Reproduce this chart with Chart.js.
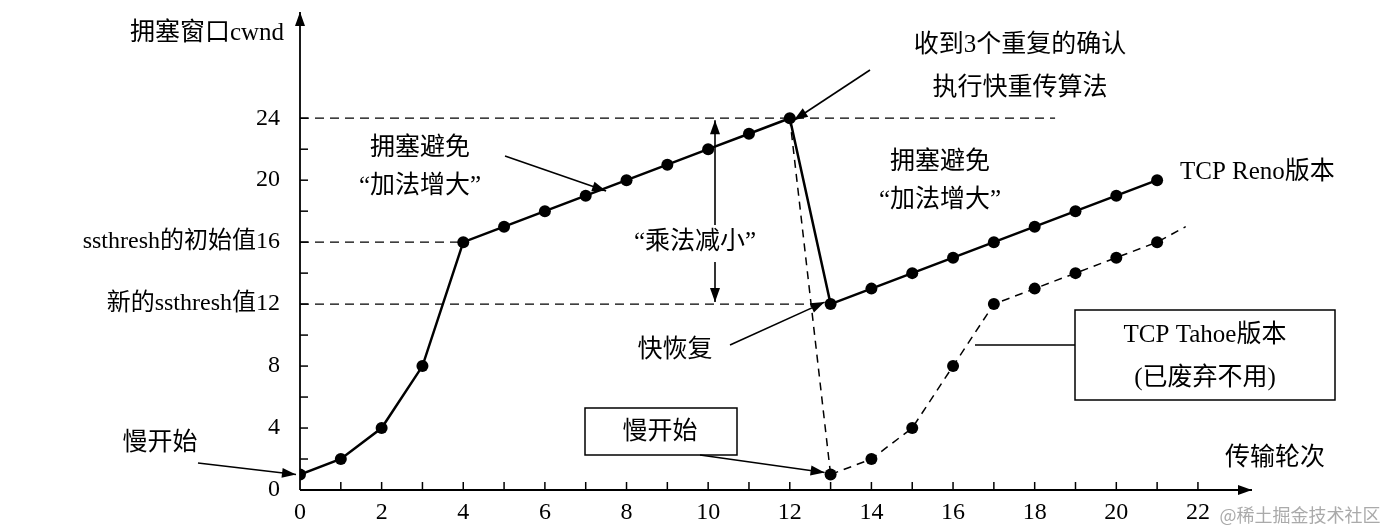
<!DOCTYPE html>
<html><head><meta charset="utf-8">
<script src="https://cdn.jsdelivr.net/npm/chart.js@4"></script>
<style>html,body{margin:0;padding:0;background:#fff}#w{width:1394px;height:530px}</style>
</head><body><div id="w"><canvas id="c"></canvas></div>
<script>
const renoX = [0,1,2,3,4,5,6,7,8,9,10,11,12,13,14,15,16,17,18,19,20,21];
const renoY = [1,2,4,8,16,17,18,19,20,21,22,23,24,12,13,14,15,16,17,18,19,20];
const dropX = [12,13];
const dropY = [24,1];
const tahoeX = [13,14,15,16,17,18,19,20,21,21.7];
const tahoeY = [1,2,4,8,12,13,14,15,16,17];
const xTicks = [0,2,4,6,8,10,12,14,16,18,20,22];
const yTicks = [0,4,8,12,16,20,24];
const yTickText = {16:'ssthresh的初始值16',12:'新的ssthresh值12'};
const zip=(a,b)=>a.map((v,i)=>({x:v,y:b[i]}));
const SERIF='"Liberation Serif","DejaVu Serif",serif';
const CJK='"Liberation Serif","Noto Sans CJK SC",serif';

function arrow(ctx,x1,y1,x2,y2,head=true){
  ctx.beginPath();ctx.moveTo(x1,y1);ctx.lineTo(x2,y2);ctx.stroke();
  if(!head)return;
  const a=Math.atan2(y2-y1,x2-x1),L=14,W=5;
  ctx.beginPath();ctx.moveTo(x2,y2);
  ctx.lineTo(x2-L*Math.cos(a)+W*Math.sin(a),y2-L*Math.sin(a)-W*Math.cos(a));
  ctx.lineTo(x2-L*Math.cos(a)-W*Math.sin(a),y2-L*Math.sin(a)+W*Math.cos(a));
  ctx.closePath();ctx.fill();
}
const deco={id:'deco',
 beforeDatasetsDraw(ch){
  const c=ch.ctx,X=ch.scales.x,Y=ch.scales.y,px=v=>X.getPixelForValue(v),py=v=>Y.getPixelForValue(v);
  c.save();c.strokeStyle='#000';c.lineWidth=1.3;c.setLineDash([9,6]);
  [[24,18.5],[16,4],[12,12.8]].forEach(([y,x])=>{c.beginPath();c.moveTo(px(0),py(y));c.lineTo(px(x),py(y));c.stroke();});
  c.restore();
 },
 afterDatasetsDraw(ch){
  const c=ch.ctx,X=ch.scales.x,Y=ch.scales.y,px=v=>X.getPixelForValue(v),py=v=>Y.getPixelForValue(v);
  c.save();c.strokeStyle='#000';c.fillStyle='#000';c.lineWidth=1.8;
  const x0=px(0),y0=py(0);
  arrow(c,x0,y0,1252,y0);arrow(c,x0,y0,x0,12);
  c.lineWidth=1.5;
  for(let i=1;i<=22;i++){c.beginPath();c.moveTo(px(i),y0);c.lineTo(px(i),y0-8);c.stroke();}
  for(let j=2;j<=24;j+=2){c.beginPath();c.moveTo(x0,py(j));c.lineTo(x0+8,py(j));c.stroke();}
  // text
  c.textAlign='center';c.textBaseline='middle';c.font='25px '+CJK;
  const T=(s,x,y,al='center')=>{c.textAlign=al;c.fillText(s,x,y);};
  T('拥塞窗口cwnd',207,33);
  T('收到3个重复的确认',1020,45);T('执行快重传算法',1020,88);
  T('拥塞避免',420,148);T('“加法增大”',420,186);
  T('拥塞避免',940,162);T('“加法增大”',940,200);
  T('TCP Reno版本',1180,172,'left');
  T('“乘法减小”',695,242);
  T('快恢复',675,350);
  T('慢开始',160,443);
  T('传输轮次',1275,458);
  c.strokeRect(1075,310,260,90);T('TCP Tahoe版本',1205,335);T('(已废弃不用)',1205,378);
  c.strokeRect(585,408,152,47);T('慢开始',660,432);
  c.lineWidth=1.6;
  arrow(c,198,463,px(0)-4,py(1));
  arrow(c,505,156,px(7.5),py(19.3));
  arrow(c,870,70,px(12)+4,py(24)+2);
  arrow(c,715,225,715,py(24)+2);arrow(c,715,262,715,py(12)-2);
  arrow(c,730,345,px(13)-6,py(12)-2);
  arrow(c,700,455,px(13)-6,py(1)-2);
  arrow(c,1075,345,975,345,false);
  c.font='18px "Noto Sans CJK SC",sans-serif';c.fillStyle='#aaa';T('@稀土掘金技术社区',1300,515);
  c.restore();
 }};
new Chart(document.getElementById('c'),{
 type:'line',
 data:{datasets:[
  {data:zip(renoX,renoY),borderColor:'#000',borderWidth:2.5,pointRadius:6,pointBackgroundColor:'#000',pointBorderWidth:0,tension:0},
  {data:zip(dropX,dropY),borderColor:'#000',borderWidth:1.5,borderDash:[8,6],pointRadius:0,tension:0},
  {data:zip(tahoeX,tahoeY),borderColor:'#000',borderWidth:1.5,borderDash:[8,6],pointRadius:tahoeX.map(v=>v>21.5?0:6),pointBackgroundColor:'#000',pointBorderWidth:0,tension:0}
 ]},
 options:{responsive:true,maintainAspectRatio:false,animation:false,
  layout:{padding:{top:64,right:143,left:0,bottom:0}},
  plugins:{legend:{display:false},tooltip:{enabled:false}},
  scales:{
   x:{type:'linear',min:0,max:23.3,grid:{display:false},border:{display:false},
      afterFit:s=>{s.height=40;},
      afterBuildTicks:s=>{s.ticks=xTicks.map(v=>({value:v}));},
      ticks:{color:'#000',font:{family:SERIF,size:24},padding:0,maxRotation:0,autoSkip:false}},
   y:{min:0,max:27.5,grid:{display:false},border:{display:false},
      afterFit:s=>{s.width=300;},
      afterBuildTicks:s=>{s.ticks=yTicks.map(v=>({value:v}));},
      ticks:{color:'#000',font:{family:CJK,size:24},padding:12,callback:v=>yTickText[v]||String(v)}}
  }},
 plugins:[deco]
});
</script></body></html>
